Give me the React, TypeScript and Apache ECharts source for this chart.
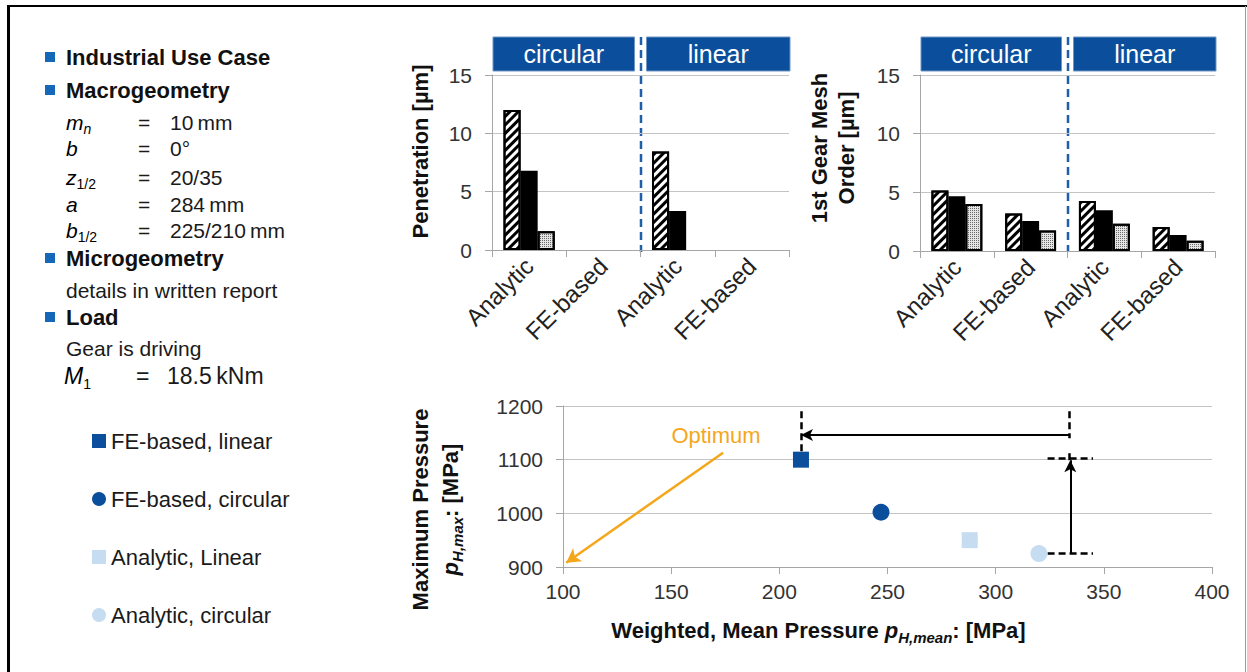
import React, { useEffect, useRef } from 'react';
import * as echarts from 'echarts';

// ---------- data ----------
const barCategories = ['Analytic', 'FE-based', 'Analytic', 'FE-based'];
const penetrationHatched = [12.0, null, 8.45, null];
const penetrationSolid = [6.8, null, 3.35, null];
const penetrationDotted = [1.6, null, null, null];
const meshHatched = [5.15, 3.2, 4.27, 2.05];
const meshSolid = [4.67, 2.56, 3.47, 1.37];
const meshDotted = [4.0, 1.74, 2.33, 0.88];
const barGroupLabels = ['circular', 'linear'];

const scatterNames = ['FE-based, linear', 'FE-based, circular', 'Analytic, Linear', 'Analytic, circular'];
const meanPressure = [210, 247, 288, 320];
const maxPressure = [1100, 1002, 950, 925];

const panelHeadings = ['Industrial Use Case', 'Macrogeometry', 'Microgeometry', 'Load'];
const macroSymbols = ['{i|m}{si|n}', '{i|b}', '{i|z}{s|1/2}', '{i|a}', '{i|b}{s|1/2}'];
const macroValues = ['10\u2009mm', '0°', '20/35', '284\u2009mm', '225/210\u2009mm'];
const microText = 'details in written report';
const loadText = 'Gear is driving';
const torqueSymbol = '{i|M}{s|1}';
const torqueValue = '18.5\u2009kNm';

// annotation segments in data units [x1, y1, x2, y2]
const arrowMean = [334, 1146, 210, 1146];
const arrowMax = [334.5, 925, 334.5, 1099];
const dashedRefs = [
  [334, 1190, 334, 1140],
  [210, 1190, 210, 1112],
  [324, 1102, 345, 1102],
  [324, 925, 345, 925],
  [334, 1099, 334, 1116],
];
const optimumArrow = [174, 1113, 101.5, 908];

// ---------- styles ----------
const FONT = '"Liberation Sans", Arial, Helvetica, sans-serif';
const DARK_BLUE = '#0b4f9c';
const LIGHT_BLUE = '#c6dcf1';
const AXIS_GRAY = '#a6a6a6';
const GRID_GRAY = '#c4c4c4';
const ORANGE = '#f5a71c';
const BULLET = '#1567b7';

const barGrids = [
  { left: 492, top: 75, width: 297, height: 175 },
  { left: 920, top: 75, width: 295, height: 176 },
];
const scatterGrid = { left: 563, top: 406, width: 649, height: 161 };

const barStyles: any[] = [
  {
    color: '#ffffff',
    decal: { symbol: 'rect', symbolSize: 1, color: '#000', dashArrayX: [1, 0], dashArrayY: [3, 3], rotation: -Math.PI / 4 },
  },
  { color: '#000000' },
  {
    color: '#e4e4e4',
    decal: { symbol: 'rect', symbolSize: 1, color: '#6a6a6a', dashArrayX: [1, 1], dashArrayY: [1, 1], rotation: 0 },
  },
];

function barXAxis(gridIndex: number) {
  return {
    type: 'category',
    gridIndex,
    data: barCategories,
    boundaryGap: true,
    axisLine: { show: true, lineStyle: { color: AXIS_GRAY, width: 1 } },
    axisTick: { show: true, length: 7, alignWithLabel: false, lineStyle: { color: AXIS_GRAY } },
    axisLabel: { rotate: 45, interval: 0, fontSize: 24, color: '#222', margin: 12, fontFamily: FONT },
    splitLine: { show: false },
  };
}

function barYAxis(gridIndex: number, name: string, nameGap: number, padding: number[]) {
  return {
    type: 'value',
    gridIndex,
    min: 0,
    max: 15,
    interval: 5,
    name,
    nameLocation: 'middle',
    nameGap,
    nameTextStyle: { fontSize: 22, fontWeight: 'bold', color: '#111', fontFamily: FONT, lineHeight: 27, padding },
    axisLine: { show: true, lineStyle: { color: AXIS_GRAY } },
    axisTick: { show: true, length: 7, lineStyle: { color: AXIS_GRAY } },
    axisLabel: { fontSize: 21, color: '#333', margin: 20, fontFamily: FONT },
    splitLine: { show: true, lineStyle: { color: GRID_GRAY, width: 1 } },
  };
}

function barSeries(axisIndex: number, arrays: any[][], prefix: string) {
  return arrays.map((d, i) => ({
    type: 'bar',
    name: `${prefix} ${i + 1}`,
    xAxisIndex: axisIndex,
    yAxisIndex: axisIndex,
    data: d,
    barGap: '0%',
    barCategoryGap: '31%',
    silent: true,
    itemStyle: { ...barStyles[i], borderColor: '#000', borderWidth: 2 },
  }));
}

const subRich = {
  b: { fontSize: 22, fontWeight: 'bold', color: '#111', fontFamily: FONT, lineHeight: 30, verticalAlign: 'middle' },
  p: { fontSize: 22, fontWeight: 'bold', fontStyle: 'italic', color: '#111', fontFamily: FONT, lineHeight: 30, verticalAlign: 'middle' },
  s: { fontSize: 15, fontWeight: 'bold', fontStyle: 'italic', color: '#111', fontFamily: FONT, lineHeight: 15, verticalAlign: 'bottom' },
};

const panelRich = {
  t: { fontSize: 21, color: '#1a1a1a', fontFamily: FONT, lineHeight: 28, verticalAlign: 'middle' },
  i: { fontSize: 21, fontStyle: 'italic', color: '#1a1a1a', fontFamily: FONT, lineHeight: 28, verticalAlign: 'middle' },
  si: { fontSize: 14, fontStyle: 'italic', color: '#1a1a1a', fontFamily: FONT, lineHeight: 14, verticalAlign: 'bottom' },
  s: { fontSize: 14, color: '#1a1a1a', fontFamily: FONT, lineHeight: 14, verticalAlign: 'bottom' },
};

function buildGraphic() {
  const g: any[] = [];
  // frame
  g.push({ type: 'line', shape: { x1: 7, y1: 6, x2: 1247, y2: 6 }, style: { stroke: '#000', lineWidth: 2 } });
  g.push({ type: 'line', shape: { x1: 8.5, y1: 5, x2: 8.5, y2: 672 }, style: { stroke: '#000', lineWidth: 3 } });
  g.push({ type: 'line', shape: { x1: 1245.5, y1: 6, x2: 1245.5, y2: 672 }, style: { stroke: '#999', lineWidth: 1 } });

  // left panel
  const headingY = [57, 90, 258, 317];
  panelHeadings.forEach((h, i) => {
    g.push({ type: 'rect', shape: { x: 45, y: headingY[i] - 5, width: 10, height: 10 }, style: { fill: BULLET } });
    g.push({
      type: 'text', x: 66, y: headingY[i],
      style: { text: h, fontSize: 22, fontWeight: 'bold', fill: '#111', fontFamily: FONT, verticalAlign: 'middle', align: 'left' },
    });
  });
  const paramY = [122, 148, 177, 204, 230];
  macroSymbols.forEach((sym, i) => {
    g.push({ type: 'text', x: 66, y: paramY[i], style: { text: sym, rich: panelRich, verticalAlign: 'middle', align: 'left' } });
    g.push({ type: 'text', x: 138, y: paramY[i], style: { text: '=', fontSize: 21, fill: '#1a1a1a', fontFamily: FONT, verticalAlign: 'middle' } });
    g.push({ type: 'text', x: 170, y: paramY[i], style: { text: macroValues[i], fontSize: 21, fill: '#1a1a1a', fontFamily: FONT, verticalAlign: 'middle' } });
  });
  g.push({ type: 'text', x: 66, y: 290, style: { text: microText, fontSize: 21, fill: '#1a1a1a', fontFamily: FONT, verticalAlign: 'middle' } });
  g.push({ type: 'text', x: 66, y: 348, style: { text: loadText, fontSize: 21, fill: '#1a1a1a', fontFamily: FONT, verticalAlign: 'middle' } });
  g.push({
    type: 'text', x: 64, y: 376,
    style: {
      text: torqueSymbol, verticalAlign: 'middle',
      rich: {
        i: { ...panelRich.i, fontSize: 23, lineHeight: 30 },
        s: { ...panelRich.s, fontSize: 14 },
      },
    },
  });
  g.push({ type: 'text', x: 136, y: 376, style: { text: '=', fontSize: 23, fill: '#1a1a1a', fontFamily: FONT, verticalAlign: 'middle' } });
  g.push({ type: 'text', x: 167, y: 376, style: { text: torqueValue, fontSize: 23, fill: '#1a1a1a', fontFamily: FONT, verticalAlign: 'middle' } });

  // bar chart group headers and separators
  barGrids.forEach((gr) => {
    const mid = gr.left + gr.width / 2;
    const boxes = [
      [gr.left + 1, mid - 6],
      [mid + 6, gr.left + gr.width + 1],
    ];
    boxes.forEach((b, i) => {
      g.push({
        type: 'rect', shape: { x: b[0], y: 37, width: b[1] - b[0], height: 34 },
        style: { fill: DARK_BLUE, stroke: '#6f95c4', lineWidth: 1 },
      });
      g.push({
        type: 'text', x: (b[0] + b[1]) / 2, y: 54,
        style: { text: barGroupLabels[i], fontSize: 25, fill: '#fff', fontFamily: FONT, align: 'center', verticalAlign: 'middle' },
      });
    });
    g.push({
      type: 'line', shape: { x1: mid + 0.5, y1: 37, x2: mid + 0.5, y2: 252 },
      style: { stroke: '#1f5ea8', lineWidth: 2.5, lineDash: [8, 5] },
    });
  });

  // optimum label
  g.push({
    type: 'text', x: 716, y: 435,
    style: { text: 'Optimum', fontSize: 22, fill: ORANGE, fontFamily: FONT, align: 'center', verticalAlign: 'middle' },
  });
  return g;
}

function seg(s: number[], lineStyle: any, endSymbol = 'none', size: any = 10) {
  return [
    { coord: [s[0], s[1]], symbol: 'none', lineStyle },
    { coord: [s[2], s[3]], symbol: endSymbol, symbolSize: size, lineStyle },
  ];
}

const plainNumber = (v: number) => String(v);

function buildOption() {
  const solid = { color: '#000', width: 2, type: 'solid' };
  const dashed = { color: '#000', width: 2.5, type: [7, 4] };
  const orange = { color: ORANGE, width: 2.5, type: 'solid' };

  const scatterSymbols = ['rect', 'circle', 'rect', 'circle'];
  const scatterColors = [DARK_BLUE, DARK_BLUE, LIGHT_BLUE, LIGHT_BLUE];

  const scatter = scatterNames.map((name, i) => {
    const s: any = {
      type: 'scatter',
      name,
      xAxisIndex: 2,
      yAxisIndex: 2,
      symbol: scatterSymbols[i],
      symbolSize: scatterSymbols[i] === 'rect' ? 16 : 17,
      data: [[meanPressure[i], maxPressure[i]]],
      itemStyle: { color: scatterColors[i], opacity: 1 },
      silent: true,
      z: 5,
    };
    if (i === 0) {
      s.markLine = {
        silent: true,
        animation: false,
        symbol: ['none', 'none'],
        label: { show: false },
        emphasis: { disabled: true },
        data: [
          seg(arrowMean, solid, 'arrow', [9, 12]),
          seg(arrowMax, solid, 'arrow', [9, 12]),
          ...dashedRefs.map((d) => seg(d, dashed)),
          seg(optimumArrow, orange, 'arrow', [12, 14]),
        ],
      };
    }
    return s;
  });

  return {
    animation: false,
    textStyle: { fontFamily: FONT },
    grid: [
      { ...barGrids[0], outerBoundsMode: 'none', containLabel: false },
      { ...barGrids[1], outerBoundsMode: 'none', containLabel: false },
      { ...scatterGrid, outerBoundsMode: 'none', containLabel: false },
    ],
    legend: {
      data: scatterNames,
      orient: 'vertical',
      left: 87,
      top: 425,
      itemGap: 36,
      itemWidth: 14,
      itemHeight: 14,
      selectedMode: false,
      textStyle: { fontSize: 22, color: '#1a1a1a', fontFamily: FONT },
    },
    xAxis: [
      barXAxis(0),
      barXAxis(1),
      {
        type: 'value',
        gridIndex: 2,
        min: 100,
        max: 400,
        interval: 50,
        name: '{b|Weighted, Mean Pressure }{p|p}{s|H,mean}{b|: [MPa]}',
        nameLocation: 'middle',
        nameGap: 48,
        nameTextStyle: { rich: subRich, padding: [0, 138, 0, 0] },
        axisLine: { show: true, lineStyle: { color: AXIS_GRAY } },
        axisTick: { show: true, length: 7, lineStyle: { color: AXIS_GRAY } },
        axisLabel: { fontSize: 21, color: '#333', margin: 14, fontFamily: FONT, formatter: plainNumber },
        splitLine: { show: false },
      },
    ],
    yAxis: [
      barYAxis(0, 'Penetration [µm]', 58, [0, 0, 0, 22]),
      barYAxis(1, '1st Gear Mesh\nOrder [µm]', 60, [0, 0, 0, 30]),
      {
        type: 'value',
        gridIndex: 2,
        min: 900,
        max: 1200,
        interval: 100,
        name: '{b|Maximum Pressure}\n{p|p}{s|H,max}{b|: [MPa]}',
        nameLocation: 'middle',
        nameGap: 98,
        nameTextStyle: { rich: subRich, padding: [0, 46, 0, 0] },
        axisLine: { show: true, lineStyle: { color: AXIS_GRAY } },
        axisTick: { show: true, length: 7, lineStyle: { color: AXIS_GRAY } },
        axisLabel: { fontSize: 21, color: '#333', margin: 20, fontFamily: FONT, formatter: plainNumber },
        splitLine: { show: true, lineStyle: { color: GRID_GRAY, width: 1 } },
      },
    ],
    graphic: buildGraphic(),
    series: [
      ...barSeries(0, [penetrationHatched, penetrationSolid, penetrationDotted], 'Penetration'),
      ...barSeries(1, [meshHatched, meshSolid, meshDotted], 'Mesh order'),
      ...scatter,
    ],
  };
}

export default function App() {
  const ref = useRef<HTMLDivElement>(null);
  useEffect(() => {
    document.body.style.margin = '0';
    const chart = echarts.init(ref.current as HTMLDivElement, null, { renderer: 'svg' });
    chart.setOption(buildOption() as any);
    return () => chart.dispose();
  }, []);
  return <div ref={ref} style={{ width: 1247, height: 672, background: '#fff' }} />;
}
